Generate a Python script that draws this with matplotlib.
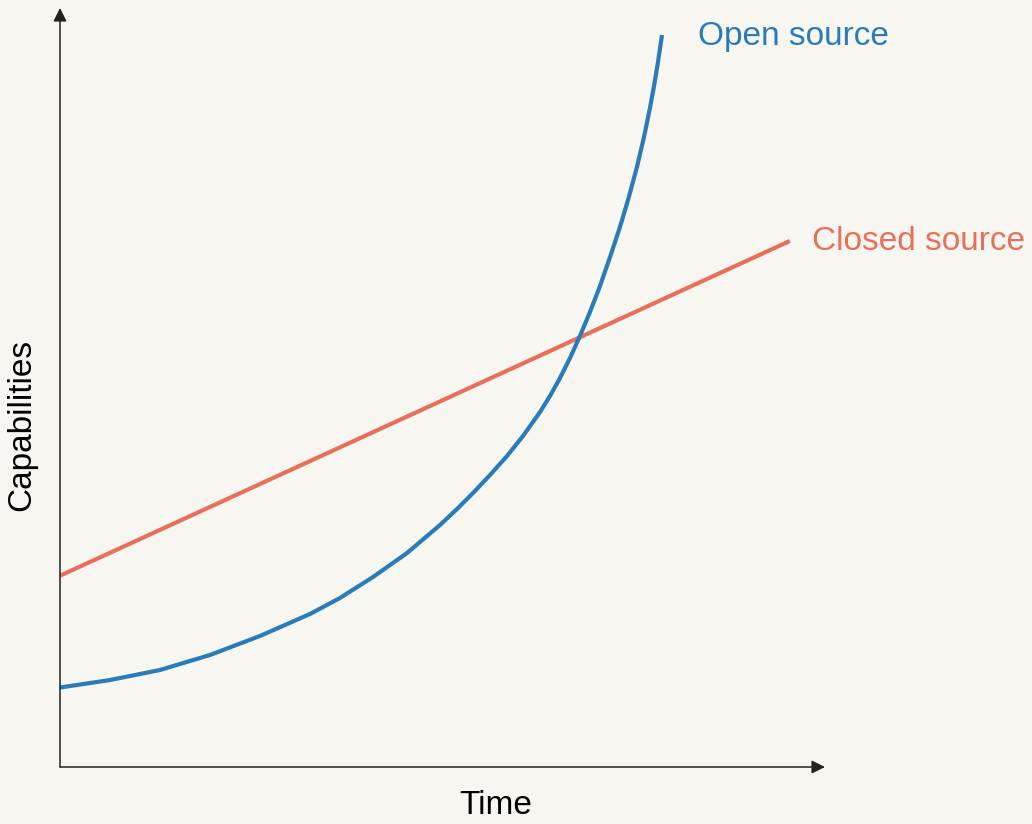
import matplotlib.pyplot as plt

# Data (time and capability in arbitrary 0-100 units)
open_time = [0, 6.54, 13.07, 19.61, 26.14, 32.68, 36.60, 40.92, 45.36, 49.67,
             51.90, 53.99, 56.21, 58.43, 60.52, 62.75, 64.05, 65.36, 66.67,
             67.97, 69.28, 70.59, 71.90, 73.20, 74.25, 75.42, 76.34, 77.12,
             77.65, 78.17, 78.69]
open_cap = [10.47, 11.46, 12.78, 14.76, 17.26, 20.16, 22.27, 25.03, 28.19, 31.88,
            33.99, 36.10, 38.47, 40.97, 43.61, 46.77, 48.88, 51.25, 53.89,
            56.79, 59.95, 63.37, 67.19, 71.15, 74.70, 79.05, 83.00, 86.82,
            89.72, 92.89, 96.44]

closed_time = [0, 95.4]
closed_cap = [25.2, 69.3]

series_labels = ['Open source', 'Closed source']
x_label = 'Time'
y_label = 'Capabilities'

# Colours
bg = '#f7f6f1'
blue = '#2a7bba'
red = '#e8705a'
axis_color = '#222222'

plt.rcParams['font.family'] = ['Liberation Sans', 'DejaVu Sans']

fig = plt.figure(figsize=(10.32, 8.24), dpi=100)
fig.patch.set_facecolor(bg)
ax = fig.add_axes([60 / 1032, 57 / 824, 765 / 1032, 759 / 824])
ax.set_facecolor(bg)

ax.plot(closed_time, closed_cap, color=red, linewidth=3, solid_capstyle='butt')
ax.plot(open_time, open_cap, color=blue, linewidth=3, solid_capstyle='butt',
        solid_joinstyle='round')

ax.set_xlim(0, 100)
ax.set_ylim(0, 100)
ax.set_xticks([])
ax.set_yticks([])
for s in ax.spines.values():
    s.set_visible(False)

# Axis arrows
arrow = dict(arrowstyle='-|>', color=axis_color, lw=1.1, mutation_scale=20,
             shrinkA=0, shrinkB=0)
ax.annotate('', xy=(0, 1), xytext=(0, 0), xycoords='axes fraction', arrowprops=arrow)
ax.annotate('', xy=(1, 0), xytext=(0, 0), xycoords='axes fraction', arrowprops=arrow)

# Line end labels
ax.annotate(series_labels[0], xy=(open_time[-1], open_cap[-1]), xytext=(26, -1),
            textcoords='offset points', color=blue, fontsize=24,
            va='center', ha='left', annotation_clip=False)
ax.annotate(series_labels[1], xy=(closed_time[-1], closed_cap[-1]), xytext=(16, 0),
            textcoords='offset points', color=red, fontsize=24,
            va='center', ha='left', annotation_clip=False)

# Axis labels
fig.text(496 / 1032, 1 - 805 / 824, x_label, fontsize=24, ha='center', va='center')
fig.text(22 / 1032, 1 - 425 / 824, y_label, fontsize=24, ha='center', va='center',
         rotation=90)

plt.savefig('out.png', dpi=100, facecolor=bg)
